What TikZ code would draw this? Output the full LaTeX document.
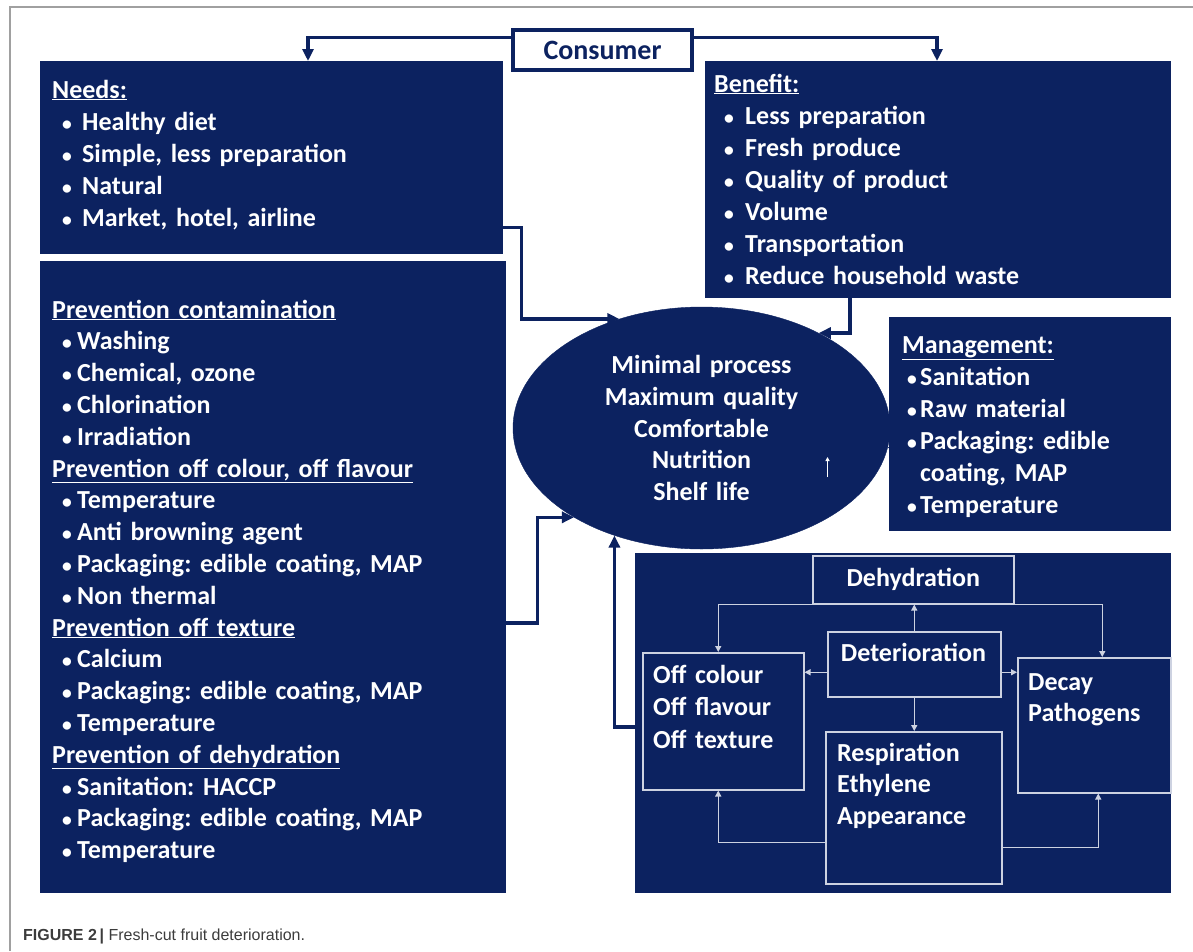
\documentclass[tikz,border=0pt]{standalone}
\usepackage{fontspec}
\setmainfont{Carlito}
\newfontfamily\capfont{Liberation Sans}
\usetikzlibrary{arrows.meta,calc,shapes.geometric,positioning}

\definecolor{navy}{RGB}{12,34,96}
\definecolor{framegray}{RGB}{160,160,160}
\definecolor{inedge}{RGB}{205,210,225}
\definecolor{captext}{RGB}{60,60,60}

\newcommand{\dotb}{\scalebox{0.75}{\textbullet}}
\newcommand{\bul}{\hspace*{10pt}\makebox[20pt][l]{\dotb}}
\newcommand{\bulb}{\hspace*{10pt}\makebox[21pt][l]{\dotb}}
\newcommand{\bulp}{\hspace*{10pt}\makebox[15pt][l]{\dotb}}
\newcommand{\bulm}{\hspace*{5pt}\makebox[13pt][l]{\dotb}}
\frenchspacing

\tikzset{
  panel/.style={fill=navy, draw=navy, anchor=north west, inner sep=0pt},
  inbox/.style={fill=navy, draw=inedge, line width=1.5pt, anchor=north west, inner sep=0pt},
  txt/.style={text=white, font=\bfseries\fontsize{26}{32}\selectfont,
    align=left, anchor=base west, inner sep=0pt},
  link/.style={draw=navy, line width=3.5pt, -{Triangle[length=12pt,width=11pt]}},
  wlink/.style={draw=inedge, line width=1.3pt, -{Triangle[length=6pt,width=6pt]}}
}

\begin{document}
\begin{tikzpicture}[x=1pt, y=-1pt]
  \useasboundingbox (0,0) rectangle (1193,951);
  \draw[framegray, line width=2pt] (10,951) -- (10,7) -- (1193,7);

  % outer boxes
  \node[panel, minimum width=462pt, minimum height=192pt] (needs) at (40,61) {};
  \node[panel, minimum width=465pt, minimum height=236pt] (benefit) at (705,61) {};
  \node[panel, minimum width=465pt, minimum height=631pt] (prev) at (40,261) {};
  \node[panel, minimum width=281pt, minimum height=213pt] (mgmt) at (889,317) {};
  \node[panel, minimum width=535pt, minimum height=339pt] (lower) at (635,553) {};
  \node[draw=navy, line width=3.5pt, fill=white, minimum width=179pt, minimum height=40pt,
    inner sep=0pt, text=navy, font=\bfseries\fontsize{28}{30}\selectfont] (consumer) at (602.5,50) {Consumer};
  \node[ellipse, fill=navy, draw=navy, minimum width=377pt, minimum height=242pt, inner sep=0pt,
    text width=240pt, align=center, text=white, font=\bfseries\fontsize{26}{31.75}\selectfont] (ell) at (701.5,428)
    {Minimal process\\Maximum quality\\Comfortable\\Nutrition\\Shelf life};

  % texts of the outer boxes
  \node[txt, text width=440pt] (needs-t) at (52,98)
    {\underline{Needs:}\\ \bul Healthy diet\\ \bul Simple, less preparation\\ \bul Natural\\ \bul Market, hotel, airline};
  \node[txt, text width=440pt] (benefit-t) at (714,92)
    {\underline{Benefit:}\\ \bulb Less preparation\\ \bulb Fresh produce\\ \bulb Quality of product\\
     \bulb Volume\\ \bulb Transportation\\ \bulb Reduce household waste};
  \node[txt, text width=265pt] (mgmt-t) at (902,353)
    {\underline{Management:}\\ \bulm Sanitation\\ \bulm Raw material\\ \bulm Packaging: edible\\
     \hspace*{18pt}coating, MAP\\ \bulm Temperature};
  \node[txt, text width=450pt, font=\bfseries\fontsize{26}{31.8}\selectfont] (prev-t) at (52,318)
    {\underline{Prevention contamination}\\ \bulp Washing\\ \bulp Chemical, ozone\\
     \bulp Chlorination\\ \bulp Irradiation\\
     \underline{Prevention off colour, off flavour}\\ \bulp Temperature\\ \bulp Anti browning agent\\
     \bulp Packaging: edible coating, MAP\\ \bulp Non thermal\\
     \underline{Prevention off texture}\\ \bulp Calcium\\ \bulp Packaging: edible coating, MAP\\
     \bulp Temperature\\
     \underline{Prevention of dehydration}\\ \bulp Sanitation: HACCP\\ \bulp Packaging: edible coating, MAP\\
     \bulp Temperature};

  % deterioration scheme
  \node[inbox, minimum width=201pt, minimum height=48pt, text=white,
    font=\bfseries\fontsize{26}{32}\selectfont] (dehyd) at (812,555) {Dehydration};
  \node[inbox, minimum width=173pt, minimum height=65pt] (deter) at (827,631) {};
  \node[inbox, minimum width=161pt, minimum height=137pt] (offc) at (642,652) {};
  \node[inbox, minimum width=153pt, minimum height=135pt] (decay) at (1017,657) {};
  \node[inbox, minimum width=176pt, minimum height=152pt] (resp) at (825,731) {};
  \node[txt, anchor=base] (deter-t) at (913.5,661) {Deterioration};
  \node[txt, text width=150pt, font=\bfseries\fontsize{26}{32.5}\selectfont] (offc-t) at (653,683)
    {Off colour\\Off flavour\\Off texture};
  \node[txt, text width=140pt, font=\bfseries\fontsize{26}{31}\selectfont] (decay-t) at (1028,690)
    {Decay\\Pathogens};
  \node[txt, text width=160pt, font=\bfseries\fontsize{26}{31.5}\selectfont] (resp-t) at (837,761)
    {Respiration\\Ethylene\\Appearance};

  % consumer arrows
  \draw[link] ($(consumer.north west)+(0,9)$) -| ($(needs.north west)+(268,0)$);
  \draw[link] ($(consumer.north east)+(0,9)$) -| ($(benefit.north west)+(232,0)$);

  % into the ellipse
  \draw[link] ($(needs.south east)+(0,-26)$) -- ++(19,0) |- (ell.127);
  \draw[link] ($(benefit.south west)+(145,0)$) |- (ell.39);
  \draw[link] ($(prev.north east)+(0,362)$) -- ++(32,0) |- (ell.215);
  \draw[link] ($(lower.north west)+(0,174)$) -| (ell.231);
  \draw[navy, line width=2pt, -{Triangle[length=7pt,width=8pt]}] ($(mgmt.west |- ell.-6)+(4,0)$) -- (ell.-6);
  \draw[white, line width=1pt, -{Triangle[length=4pt,width=4pt]}] ($(ell.center)+(126,49)$) -- ++(0,-20);

  % inside the scheme
  \draw[wlink] (dehyd.south west) -| ($(offc.north)+(-5,0)$);
  \draw[wlink] (dehyd.south east) -| ($(decay.north)+(8,0)$);
  \draw[wlink] (deter.north) -- (deter.north |- dehyd.south);
  \path (deter.west) ++(0,8) coordinate (dw);
  \path (deter.east) ++(0,8) coordinate (de);
  \draw[wlink] (dw) -- (dw -| offc.east);
  \draw[wlink] (de) -- (de -| decay.west);
  \draw[wlink] (deter.south) -- (deter.south |- resp.north);
  \draw[wlink] ($(resp.west)+(0,35)$) -| ($(offc.south)+(-5,0)$);
  \draw[wlink] ($(resp.east)+(0,40)$) -| ($(decay.south)+(4,0)$);

  % caption
  \node[anchor=base west, inner sep=0pt, text=captext, font=\capfont\fontsize{16}{18}\selectfont] (caption) at (23,940)
    {\textbf{FIGURE 2\,|} Fresh-cut fruit deterioration.};
\end{tikzpicture}
\end{document}
